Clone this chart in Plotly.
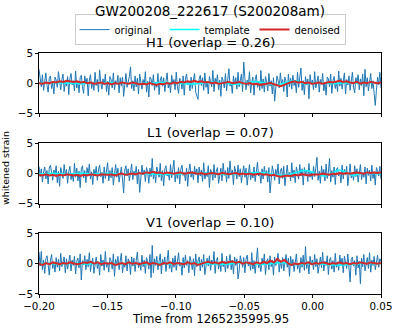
import plotly.graph_objects as go
import numpy as np

# ---- data ----
t_start, t_end = -0.20, 0.05
detectors = ["H1", "L1", "V1"]
overlaps = [0.26, 0.07, 0.10]

h1_original = [
    2.3, 0.9, -0.6, 1.4, -1.2, 0.3, 1.7, -0.4, -1.5, 0.8, 1.2, -0.9, 0.1, -1.8, 1.0, 0.5, -0.7, 1.9, -0.2, -1.1,
    0.6, 1.5, -1.4, 0.2, -0.5, 1.1, -1.9, 0.7, 1.6, -0.3, 0.4, -1.3, 2.0, -0.8, 0.3, -1.6, 0.9, 1.3, -0.6, -1.7,
    1.2, -0.1, 0.8, -2.1, 0.5, 1.4, -0.9, 0.2, -1.2, 1.8, -0.4, 0.6, -1.5, 2.2, 0.1, -1.0, 0.7, -0.3, 1.5, -1.4,
    0.3, -2.0, 1.1, 0.6, -0.8, 1.7, -1.1, 0.4, -0.2, 1.3, -1.6, 0.9, -0.5, 1.0, -2.2, 0.5, 1.6, -0.7, 0.2, 1.1,
    2.7, -0.9, 0.4, -1.3, 1.2, -0.6, 0.8, -1.8, 1.5, 0.1, -1.0, 0.6, -0.3, 1.9, -1.5, 0.3, -2.3, 1.0, 0.7, -0.4,
    1.4, -1.2, 0.2, -0.7, 1.6, -1.9, 0.5, 1.1, -0.5, 0.9, -1.4, 0.3, 1.7, -0.8, 0.1, -1.6, 1.3, -0.2, 0.6, -1.1,
    1.8, -0.6, -1.7, 0.8, 0.4, -1.0, 1.2, -2.0, 0.7, 1.5, -0.3, 0.2, -1.3, 1.0, -0.9, 0.5, 1.6, -1.5, -2.1, -2.7,
    0.6, 1.3, -0.4, 0.9, -1.2, 1.7, -0.7, 0.3, -1.8, 1.1, 0.2, -0.6, 2.1, -1.4, 0.8, -0.1, 1.4, -1.1, 0.5, -2.2,
    1.0, 0.4, -0.8, 1.6, -1.3, 0.7, 2.4, -0.5, 0.1, -1.7, 1.2, -0.3, 0.9, -1.0, 1.8, -0.6, 0.3, 1.5, -1.4, 3.5,
    0.8, -1.1, 0.5, -0.4, 1.9, -1.6, 0.2, 1.0, -2.0, 0.6, 1.4, -0.7, 0.3, -1.2, 2.1, -0.9, 0.7, -1.5, 1.1, 0.2,
    -1.3, 1.6, -0.5, 0.4, -1.8, 0.9, -3.0, -1.1, 1.2, 0.5, -0.8, 1.7, -0.2, 0.6, -1.4, 1.0, 0.3, -2.3, 1.5, -0.6,
    0.8, -1.0, 1.3, -0.4, 0.2, -1.6, 1.8, -0.7, 0.9, 2.5, -1.2, 0.4, -1.9, 1.1, -0.3, 0.7, -2.6, 1.4, -0.1, 0.5,
    -1.1, 1.9, -0.8, 0.3, 1.2, -1.5, 0.6, -0.2, 1.6, -1.3, 0.1, -2.0, 1.0, 0.7, -0.6, 1.5, -1.7, 0.4, 1.1, -0.9,
    0.2, -1.4, 2.0, -0.5, 0.8, -1.0, 0.3, 1.7, -1.8, 0.6, -0.3, 1.2, -1.2, 0.5, 1.8, -0.7, -1.6, 0.9, 0.1, 1.4,
    -1.1, 0.7, -0.4, 1.5, -2.1, 2.3, -0.6, 0.9, -1.3, 0.2, 1.6, -0.9, 0.4, -1.7, -3.7, -1.2, 1.0, -0.3, 1.8, -0.8,
]
h1_denoised = [
    0.0, -0.1, 0.1, 0.0, 0.2, 0.1, 0.3, 0.2, 0.4, 0.3,
    0.2, 0.3, 0.1, 0.2, 0.0, 0.1, -0.1, 0.0, 0.1, -0.1,
    0.0, -0.2, 0.0, -0.1, 0.1, 0.0, -0.1, 0.1, 0.0, -0.2,
    -0.1, -0.2, 0.0, -0.1, -0.3, -0.1, -0.2, 0.0, -0.1, 0.1,
    0.0, 0.2, 0.1, 0.3, 0.2, 0.4, 0.2, 0.3, 0.1, 0.2,
    0.0, 0.1, -0.1, 0.0, 0.1, 0.2, 0.0, 0.1, 0.2, 0.0,
    -0.1, 0.0, -0.2, -0.1, -0.3, -0.2, -0.1, 0.0, -0.2, -0.4,
    -0.5, -0.3, 0.0, 0.2, 0.3, 0.1, 0.2, 0.0, 0.1, -0.1,
    0.0, 0.1, -0.1, 0.0, 0.2, 0.1, 0.3, 0.4, 0.2, 0.3,
    0.1, 0.0, 0.2, -0.1, 0.1, 0.0, 0.2, 0.1, 0.0, 0.1,
]
h1_template = [
    0.0, 0.05, 0.1, 0.05, 0.0, -0.05, -0.1, -0.05, 0.0, 0.05,
    0.1, 0.05, 0.0, -0.05, -0.1, -0.05, 0.0, 0.05, 0.1, 0.05,
    0.0, -0.1, -0.15, -0.05, 0.05, 0.15, 0.1, -0.05, -0.2, -0.1,
    0.1, 0.25, 0.1, -0.15, -0.3, -0.05, 0.3, 0.35, -0.1, 0.0,
    0.05, 0.0, -0.05, 0.0, 0.05, 0.0, -0.05, 0.0, 0.05, 0.0,
]

l1_original = [
    1.2, -0.5, 0.8, -1.4, 0.3, 1.1, -0.9, 0.5, -1.7, 0.9, 1.4, -0.3, -1.1, 0.6, -0.2, 1.3, -1.5, 0.4, -2.1, 1.0,
    0.2, -0.8, 1.5, -0.4, 0.7, -1.6, 0.3, 1.2, -1.0, 0.1, -1.3, 1.7, -0.6, 0.9, -1.2, 0.4, -2.3, 0.8, 1.3, -0.7,
    0.5, -1.5, 1.0, -0.2, 1.6, -0.9, 0.3, -1.8, 0.7, -0.4, 1.2, -1.1, 0.6, 1.4, -0.5, 0.2, -1.6, 1.1, -0.8, 0.4,
    1.8, -1.2, 0.5, -0.7, 1.0, -1.9, 0.2, 1.5, -0.6, 0.9, -1.4, 0.3, 1.1, -0.9, -3.2, 0.6, 1.3, -0.4, 0.8, -1.2,
    0.1, 1.6, -1.0, 0.4, -0.3, 1.2, -1.7, 0.7, -3.1, -0.8, 1.4, -0.2, 0.6, -1.3, 1.0, 0.3, -1.6, 0.9, -0.5, 2.5,
    -0.9, 0.4, -1.5, 1.1, 0.2, -0.6, 1.7, -1.2, 0.5, -2.0, 0.8, 1.3, -0.4, 0.1, -1.1, 1.5, -0.7, 0.6, 2.2, -1.4,
    0.3, -0.8, 1.0, -1.7, 0.7, 1.4, -0.3, 0.2, -1.2, 0.9, -2.1, 0.5, 1.6, -0.6, 0.4, -1.0, 1.2, -0.2, 0.8, -1.5,
    1.1, -0.4, 0.6, -1.3, 1.8, -0.9, 0.2, -0.5, 1.3, -2.3, 0.7, 0.3, -1.1, 1.5, -0.7, 0.4, 1.0, -1.6, 0.1, 0.9,
    -1.2, 1.7, -0.3, 0.5, -1.4, 1.0, -0.8, 2.1, -0.2, 0.6, -1.8, 1.2, 0.3, -0.9, 1.4, -0.5, 0.8, -1.5, 0.2, 1.3,
    -0.6, 0.9, -1.9, 0.4, 1.5, -1.0, 0.2, -0.7, 1.1, -1.3, 0.6, 1.9, -0.4, 0.1, -1.6, 0.8, -0.9, 1.2, -0.2, 0.5,
    -1.4, 1.0, -3.2, -0.6, 1.3, 0.3, -1.1, 0.7, -0.3, 1.6, -1.7, 0.4, 0.9, -0.8, 1.2, -2.0, 0.5, 1.4, -0.5, 0.2,
    -1.2, 1.8, -0.7, 0.6, -1.5, 1.1, 0.3, -0.9, 1.5, -0.4, 0.8, -1.9, 1.0, -0.2, 0.6, -1.3, 1.7, -0.6, 0.3, -1.0,
    1.2, -0.5, 0.9, 2.7, -1.1, 0.4, -1.6, 1.3, -0.3, 0.7, -1.2, 1.6, -0.8, 0.2, 2.5, -1.4, 0.5, -0.6, 1.1, -1.8,
    0.6, 1.0, -0.4, 0.3, -1.5, 1.4, -0.9, 0.7, -0.2, 1.2, -2.0, 0.5, 1.6, -0.7, 0.1, -1.1, 1.3, -0.5, 0.8, -1.4,
    0.4, 1.5, -1.0, 0.2, -0.6, 1.1, -1.7, 0.9, -0.3, 0.6, -1.2, 1.4, -0.8, 0.3, -1.9, 1.0, 0.5, -0.4, 1.2, -0.9,
]
l1_denoised = [
    -0.2, -0.3, -0.1, -0.3, -0.2, -0.4, -0.2, -0.3, -0.1, -0.2,
    -0.3, -0.2, -0.4, -0.2, -0.3, -0.1, -0.2, -0.3, -0.1, -0.2,
    -0.2, -0.1, -0.3, -0.1, 0.0, -0.2, -0.1, 0.0, -0.1, 0.1,
    0.0, 0.2, 0.1, 0.3, 0.1, 0.2, 0.0, 0.2, 0.1, 0.0,
    0.1, 0.2, 0.0, 0.1, 0.2, 0.1, 0.0, 0.1, -0.1, 0.0,
    0.1, 0.0, -0.1, 0.1, 0.0, -0.1, 0.0, 0.1, -0.1, 0.0,
    -0.1, 0.0, -0.2, -0.1, 0.0, -0.2, -0.1, -0.3, -0.2, -0.4,
    -0.5, -0.4, -0.3, -0.4, -0.2, -0.3, -0.1, -0.2, -0.3, -0.2,
    -0.1, -0.2, 0.0, -0.1, -0.2, 0.0, -0.1, 0.1, 0.0, 0.1,
    0.0, 0.1, 0.2, 0.1, 0.0, 0.2, 0.1, 0.2, 0.1, 0.2,
]
l1_template = [
    0.0, 0.0, 0.05, 0.0, -0.05, 0.0, 0.05, 0.0, -0.05, 0.0,
    0.05, 0.0, -0.05, 0.0, 0.05, 0.0, -0.05, -0.1, -0.15, -0.1,
    -0.05, 0.0, 0.05, 0.1, 0.05, 0.0, -0.1, -0.15, -0.1, 0.0,
    0.1, 0.2, 0.15, 0.0, -0.2, -0.3, -0.1, 0.25, 0.5, 0.3,
    -0.2, -0.4, 0.1, 0.6, 0.2, -0.3, 0.0, 0.05, 0.0, 0.0,
]

v1_original = [
    1.9, -0.4, 2.0, -1.0, 0.6, -1.6, 0.8, 1.3, -0.2, -1.9, 0.5, 1.5, -0.8, 0.3, -1.4, 1.0, -0.6, 0.7, -1.2, 1.7,
    -0.5, 0.3, 1.1, -1.5, 0.8, -0.9, 0.2, 1.4, -1.2, 0.6, -0.3, 1.2, -1.7, 0.4, 0.9, -0.7, 1.6, -2.7, 0.5, -0.2,
    1.3, -1.0, 0.7, -0.5, 1.8, -1.3, 0.1, 0.9, -1.6, 0.4, 1.1, -0.8, 0.3, -1.9, 1.5, -0.4, 0.6, -1.1, 2.0, -0.6,
    0.2, -1.4, 1.0, 0.5, -0.9, 1.6, -2.1, 0.7, -0.3, 1.2, -1.0, 0.4, 1.7, -1.5, 0.1, -0.6, 1.3, -1.2, 0.8, 0.3,
    -1.8, 1.1, -0.4, 0.9, -1.3, 0.5, 1.9, -0.7, 0.2, -1.1, 1.4, -0.5, 0.6, -1.6, 1.0, 0.3, -0.9, 1.5, -2.3, 3.0,
    -1.5, 0.8, -0.3, 1.2, -1.0, 0.4, 1.6, -1.7, 0.7, -0.2, 1.1, -1.3, 0.5, 2.2, -0.8, 0.1, -1.4, 0.9, -0.6, 1.3,
    -1.1, 0.6, 1.8, -0.4, 0.2, -1.9, 1.0, -0.7, 1.4, -0.3, 0.5, -1.5, 1.2, 0.3, -1.0, 0.8, -2.0, 1.6, -0.5, 0.4,
    1.1, -1.2, 0.7, -0.6, 1.5, -1.8, 0.2, 0.9, -0.4, 1.3, -1.1, 0.6, -0.2, 2.0, -1.6, 0.5, 1.0, -0.9, 0.3, -1.3,
    1.7, -0.5, 0.4, -1.4, 1.2, -0.8, 0.1, 1.5, -1.0, 0.6, -1.7, 1.1, -0.3, 0.8, -2.5, -1.2, 1.3, 0.2, -0.6, 1.0,
    -1.5, 0.7, 1.4, -0.4, 0.3, -1.1, 1.8, -0.9, 0.5, -1.6, 1.2, 2.6, -0.7, 0.1, -1.3, 0.9, -0.2, 1.6, -1.8, 0.4,
    0.8, -1.0, 1.3, -0.5, 0.6, -1.9, 1.1, -0.3, 0.2, 1.7, -1.4, 0.5, -0.8, 1.0, -1.2, 0.3, 1.5, -0.6, 0.9, -2.1,
    1.2, -0.4, 0.7, -1.3, 0.4, 1.6, -0.9, 0.1, -1.5, 1.0, -0.6, 1.4, -1.1, 2.8, -0.8, 0.3, -1.7, 1.2, -0.2, 0.6,
    -1.0, 1.5, -0.5, 0.8, -1.6, 0.2, 1.1, -0.7, 1.9, -1.2, 0.4, -0.3, 1.3, -1.8, 0.6, 1.0, -0.9, 0.5, -1.4, 1.7,
    -0.6, 0.3, -1.1, 1.4, -0.2, 0.9, -1.5, 1.2, 0.1, -0.8, 1.6, -1.3, -3.0, 0.7, 1.1, -0.4, 0.5, -1.9, 1.3, -0.7,
    0.4, -3.3, 0.9, -0.5, 1.5, -1.2, 0.2, 1.0, -0.8, 1.8, -1.4, 0.6, -0.3, 1.2, -1.0, 0.4, 1.4, -0.6, 0.8, 0.3,
]
v1_denoised = [
    0.0, -0.2, 0.1, -0.1, 0.2, 0.0, -0.1, 0.1, 0.0, 0.2,
    0.1, -0.1, 0.0, 0.2, 0.1, 0.3, 0.0, 0.2, -0.1, 0.1,
    0.0, 0.1, -0.2, 0.0, 0.1, -0.1, 0.2, 0.0, 0.1, -0.1,
    0.0, 0.2, -0.1, 0.1, 0.0, -0.2, 0.1, 0.0, 0.2, -0.1,
    0.1, 0.0, -0.1, 0.2, 0.0, 0.1, -0.2, 0.0, 0.1, 0.3,
    0.1, 0.2, 0.0, 0.3, 0.1, 0.2, 0.4, 0.1, 0.3, 0.0,
    0.2, 0.1, -0.1, 0.2, 0.0, 0.3, 0.1, 0.5, 0.2, 0.8,
    0.3, 0.6, 0.1, -0.2, 0.0, -0.1, 0.1, 0.0, 0.2, -0.1,
    0.1, 0.0, 0.2, 0.1, -0.1, 0.1, 0.0, 0.2, 0.0, 0.1,
    -0.1, 0.1, 0.0, 0.2, 0.1, 0.0, 0.2, 0.1, 0.0, 0.1,
]
v1_template = [
    0.0, 0.05, 0.0, -0.05, 0.0, 0.05, 0.0, -0.05, 0.0, 0.05,
    0.0, -0.05, 0.0, 0.05, 0.0, -0.05, 0.0, 0.05, 0.0, -0.05,
    0.0, 0.05, 0.1, 0.05, 0.0, -0.05, -0.1, -0.05, 0.05, 0.1,
    0.05, -0.05, -0.15, -0.05, 0.1, 0.15, 0.0, -0.15, -0.1, 0.05,
    0.0, -0.1, -0.2, -0.25, -0.2, -0.1, 0.0, 0.05, 0.0, 0.0,
]

originals = [h1_original, l1_original, v1_original]
templates = [h1_template, l1_template, v1_template]
denoiseds = [h1_denoised, l1_denoised, v1_denoised]

# ---- layout ----
FONT = "DejaVu Sans"
domains = [[0.75, 1.0], [0.374, 0.625], [0.0, 0.252]]

fig = go.Figure()
for i, det in enumerate(detectors):
    ax = "" if i == 0 else str(i + 1)
    specs = [
        ("original", originals[i], "#1f77b4", 1.0, "linear"),
        ("template", templates[i], "#00ffff", 1.5, "spline"),
        ("denoised", denoiseds[i], "#d62728", 2.0, "linear"),
    ]
    for name, vals, color, w, shape in specs:
        t = np.linspace(t_start, t_end, len(vals))
        fig.add_trace(go.Scatter(
            x=t, y=vals, mode="lines", name=name,
            line=dict(color=color, width=w, shape=shape),
            xaxis="x" + ax, yaxis="y" + ax,
            showlegend=(i == 0), legendgroup=name))

    axis_style = dict(showline=True, linecolor="black", linewidth=1, mirror=True,
                      ticks="outside", ticklen=3, tickwidth=1, tickcolor="black",
                      showgrid=False, zeroline=False,
                      tickfont=dict(family=FONT, size=10.3, color="black"))
    fig.update_layout({
        "xaxis" + ax: dict(axis_style, domain=[0, 1], anchor="y" + ax,
                           range=[t_start, t_end], tickvals=[-0.2, -0.15, -0.1, -0.05, 0.0, 0.05],
                           tickformat=".2f", showticklabels=(i == 2),
                           matches=None if i == 0 else "x"),
        "yaxis" + ax: dict(axis_style, domain=domains[i], anchor="x" + ax,
                           range=[-5, 5], tickvals=[-5, 0, 5]),
    })
    fig.add_annotation(text=f"{det} (overlap = {overlaps[i]:.2f})",
                       xref="paper", yref="paper", x=0.5, y=domains[i][1],
                       xanchor="center", yanchor="bottom", yshift=1, showarrow=False,
                       font=dict(family=FONT, size=13, color="black"))

fig.add_annotation(text="Time from 1265235995.95", xref="paper", yref="paper",
                   x=0.5, y=-0.103, xanchor="center", yanchor="middle", showarrow=False,
                   font=dict(family=FONT, size=11.7, color="black"))
fig.add_annotation(text="whitened strain", xref="paper", yref="paper",
                   x=-0.0965, y=0.523, xanchor="center", yanchor="middle", textangle=-90,
                   showarrow=False, font=dict(family=FONT, size=9.5, color="black"))

fig.update_layout(
    width=398, height=329,
    margin=dict(l=39, r=17, t=53, b=35, autoexpand=False),
    plot_bgcolor="white", paper_bgcolor="white",
    title=dict(text="GW200208_222617 (S200208am)", x=0.5, xref="paper",
               y=0.965, yanchor="middle",
               font=dict(family=FONT, size=13.5, color="black")),
    legend=dict(orientation="h", x=0.5, xanchor="center",
                yref="container", y=0.91, yanchor="middle",
                bordercolor="#cccccc", borderwidth=1, bgcolor="white",
                font=dict(family=FONT, size=10, color="black"),
                entrywidth=45, tracegroupgap=0),
    font=dict(family=FONT),
)

# page body has an 8px default margin; drop it so the figure sits at the corner
fig.write_html("out.html", config={"displayModeBar": False},
               post_script="document.body.style.margin='0';")
